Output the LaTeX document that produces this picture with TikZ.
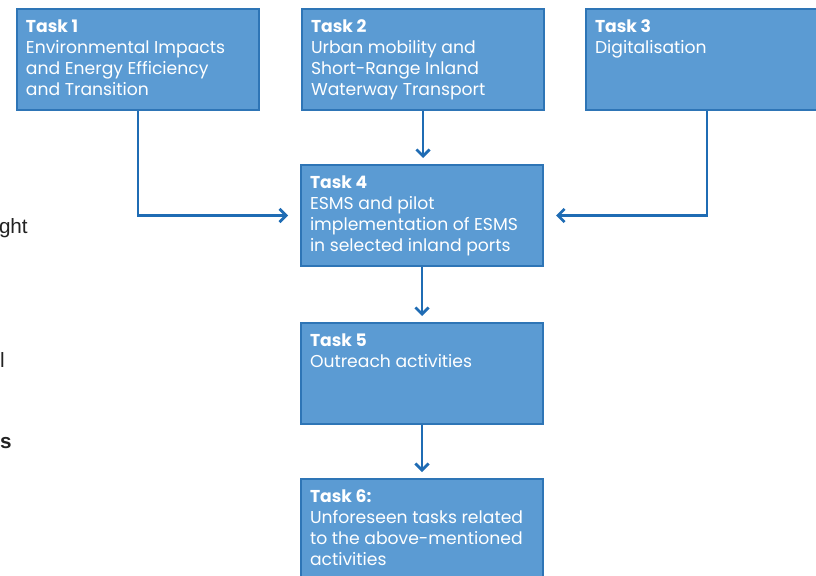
\documentclass[tikz,border=0pt]{standalone}
\usepackage{fontspec}
\setmainfont{Poppins}
\newfontfamily\sidefont{Liberation Sans}
\usetikzlibrary{arrows.meta}
\definecolor{boxfill}{HTML}{5B9BD3}
\definecolor{boxline}{HTML}{2E75B6}
\definecolor{arrowc}{HTML}{1F6CB4}
\definecolor{sidetext}{HTML}{222222}
\newlength\bw \setlength\bw{168pt}
\newlength\bh \setlength\bh{59.25pt}
\newcommand\tasktext[2]{\parbox[c][\bh][t]{\bw}{\raggedright\fontsize{12.9}{15.6}\selectfont\textbf{#1}\\#2}}
\tikzset{
  taskbox/.style={draw=boxline, fill=boxfill, line width=1.5pt, text=white,
    inner xsep=6.75pt, inner ysep=8.25pt, anchor=north west},
  flow/.style={draw=arrowc, line width=2pt, -{Straight Barb[length=5pt,width=10pt,line width=2pt]}},
  sidelabel/.style={font=\sidefont\fontsize{15.5}{18}\selectfont, text=sidetext, inner sep=0pt, anchor=base east}
}
\begin{document}
\begin{tikzpicture}[x=0.75pt,y=-0.75pt]
\useasboundingbox (0,0) rectangle (816,575);
\clip (0,0) rectangle (816,575);
\node[taskbox] (t1) at (16,8) {\tasktext{Task 1}{Environmental Impacts\\and Energy Efficiency\\and Transition}};
\node[taskbox] (t2) at (301,8) {\tasktext{Task 2}{Urban mobility and\\Short-Range Inland\\Waterway Transport}};
\node[taskbox] (t3) at (585,8) {\tasktext{Task 3}{Digitalisation}};
\node[taskbox] (t4) at (300,164) {\tasktext{Task 4}{ESMS and pilot\\implementation of ESMS\\in selected inland ports}};
\node[taskbox] (t5) at (300,322) {\tasktext{Task 5}{Outreach activities}};
\node[taskbox] (t6) at (300,478) {\tasktext{Task 6:}{Unforeseen tasks related\\to the above-mentioned\\activities}};
\draw[flow, shorten >=9pt] (t1.south) |- (t4.west);
\draw[flow, shorten >=9pt] (t3.south) |- (t4.east);
\draw[flow, shorten >=4.5pt] (t2.south) -- (t2.south |- t4.north);
\draw[flow, shorten >=4.5pt] (t4.south) -- (t5.north);
\draw[flow, shorten >=4.5pt] (t5.south) -- (t6.north);
\node[sidelabel] (s1) at (28,233) {ght};
\node[sidelabel] (s2) at (5,367) {l};
\node[sidelabel, font=\sidefont\bfseries\fontsize{15.5}{18}\selectfont] (s3) at (12,448) {s};
\end{tikzpicture}
\end{document}
